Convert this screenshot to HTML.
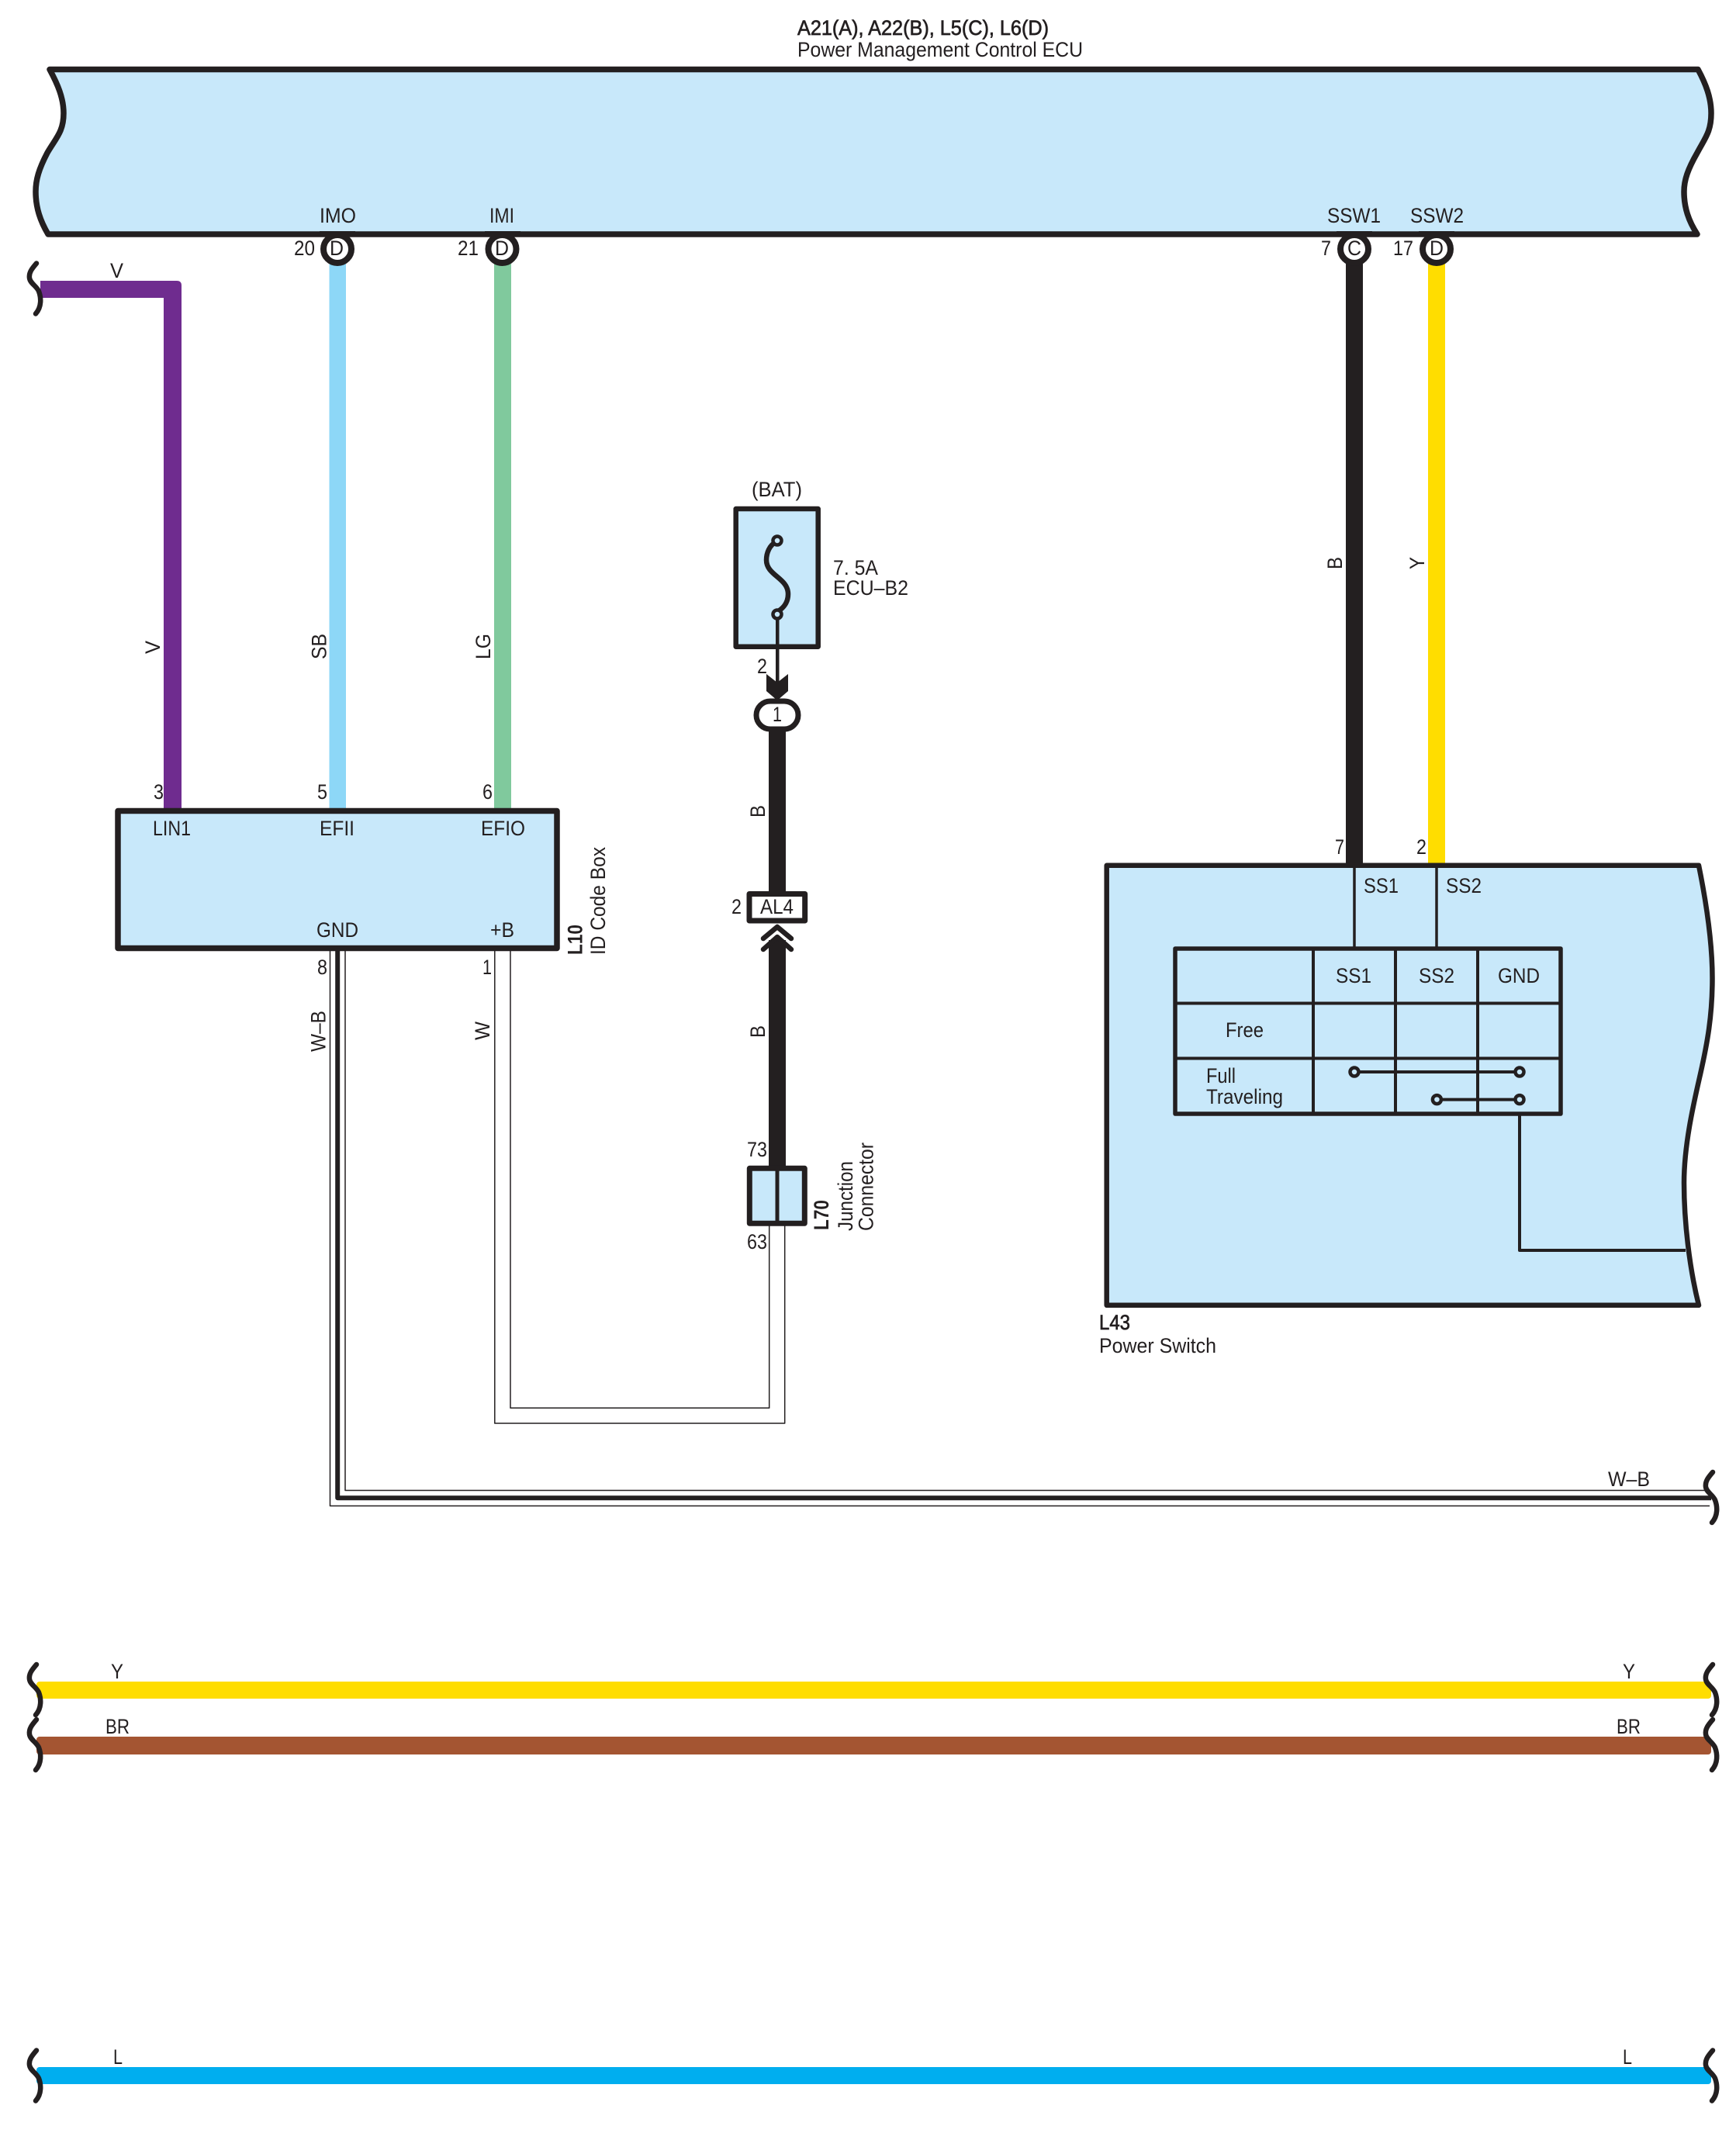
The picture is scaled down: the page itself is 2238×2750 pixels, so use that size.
<!DOCTYPE html>
<html><head><meta charset="utf-8"><style>
html,body{margin:0;padding:0;background:#fff}
svg{display:block}
text{font-family:"Liberation Sans",sans-serif;font-size:27px;fill:#231f20}
.b{stroke:#231f20;stroke-width:.7px}
.bb{font-weight:bold}
.n{fill:none;stroke:#231f20;stroke-linejoin:round}
</style></head><body>
<svg width="2238" height="2750" viewBox="0 0 2238 2750" xmlns="http://www.w3.org/2000/svg">
<defs>
<path id="br" d="M2,-33 C-4,-26 -8,-21 -7,-14 C-6,-7 2,-4 5,3 C8,11 9,23 1,32" fill="none" stroke="#231f20" stroke-width="6.5" stroke-linecap="round"/>
</defs>
<rect width="2238" height="2750" fill="#fff"/>

<!-- ECU -->
<path d="M64 89.5 L2189 89.5 C2199 108 2206 126 2206 146 C2206 170 2198 178 2188 197 C2176 218 2171 232 2171 247 C2171 268 2177 285 2188 302 L62 302 C52 285 46 268 46 247 C46 232 50 218 61 197 C72 178 82 170 82 146 C82 126 74 108 64 89.5 Z" fill="#c8e8fa" stroke="#231f20" stroke-width="7.5" stroke-linejoin="round"/>
<text x="1028" y="45" textLength="324" lengthAdjust="spacingAndGlyphs" class="b">A21(A), A22(B), L5(C), L6(D)</text>
<text x="1028" y="73" textLength="368" lengthAdjust="spacingAndGlyphs">Power Management Control ECU</text>
<text x="412" y="287" textLength="47" lengthAdjust="spacingAndGlyphs">IMO</text>
<text x="631" y="287" textLength="32" lengthAdjust="spacingAndGlyphs">IMI</text>
<text x="1711" y="287" textLength="69" lengthAdjust="spacingAndGlyphs">SSW1</text>
<text x="1818" y="287" textLength="69" lengthAdjust="spacingAndGlyphs">SSW2</text>

<!-- vertical wires from ECU -->
<rect x="424.5" y="340" width="21.5" height="704" fill="#8dd7f7"/>
<rect x="637" y="340" width="22" height="704" fill="#80c99d"/>
<rect x="1735" y="338" width="22" height="778" fill="#231f20"/>
<rect x="1841" y="340" width="22" height="776" fill="#ffdd00"/>

<!-- pin rings -->
<g fill="#fff" stroke="#231f20" stroke-width="8">
<circle cx="435" cy="321" r="18"/>
<circle cx="647.5" cy="321" r="18"/>
<circle cx="1746" cy="321" r="18"/>
<circle cx="1852" cy="321" r="18"/>
</g>
<rect x="412" y="298" width="46" height="7.5" fill="#231f20"/>
<rect x="625" y="298" width="46" height="7.5" fill="#231f20"/>
<rect x="1723" y="298" width="46" height="7.5" fill="#231f20"/>
<rect x="1829" y="298" width="46" height="7.5" fill="#231f20"/>
<text x="425" y="329" textLength="18" lengthAdjust="spacingAndGlyphs">D</text>
<text x="638" y="329" textLength="18" lengthAdjust="spacingAndGlyphs">D</text>
<text x="1737" y="329" textLength="18" lengthAdjust="spacingAndGlyphs">C</text>
<text x="1843" y="329" textLength="18" lengthAdjust="spacingAndGlyphs">D</text>
<text x="379" y="329" textLength="27" lengthAdjust="spacingAndGlyphs">20</text>
<text x="590" y="329" textLength="27" lengthAdjust="spacingAndGlyphs">21</text>
<text x="1703" y="329" textLength="13" lengthAdjust="spacingAndGlyphs">7</text>
<text x="1796" y="329" textLength="26" lengthAdjust="spacingAndGlyphs">17</text>

<!-- purple V -->
<path d="M52 362 L228 362 Q234 362 234 368 L234 1044 L211 1044 L211 384 L52 384 Z" fill="#6f2c8f"/>
<use href="#br" x="45" y="372.5"/>
<text x="142" y="358" textLength="17" lengthAdjust="spacingAndGlyphs">V</text>

<!-- rotated wire labels -->
<text transform="translate(206 843) rotate(-90)" textLength="17" lengthAdjust="spacingAndGlyphs">V</text>
<text transform="translate(420.5 850) rotate(-90)" textLength="33" lengthAdjust="spacingAndGlyphs">SB</text>
<text transform="translate(632 850) rotate(-90)" textLength="33" lengthAdjust="spacingAndGlyphs">LG</text>
<text transform="translate(1730 734) rotate(-90)" textLength="16" lengthAdjust="spacingAndGlyphs">B</text>
<text transform="translate(1836 734) rotate(-90)" textLength="16" lengthAdjust="spacingAndGlyphs">Y</text>

<!-- L10 -->
<rect x="152" y="1045.5" width="566" height="177" fill="#c8e8fa" stroke="#231f20" stroke-width="7.5" stroke-linejoin="round"/>
<text x="197" y="1077" textLength="49" lengthAdjust="spacingAndGlyphs">LIN1</text>
<text x="412" y="1077" textLength="45" lengthAdjust="spacingAndGlyphs">EFII</text>
<text x="620" y="1077" textLength="57" lengthAdjust="spacingAndGlyphs">EFIO</text>
<text x="408" y="1208" textLength="54" lengthAdjust="spacingAndGlyphs">GND</text>
<text x="632" y="1208" textLength="31" lengthAdjust="spacingAndGlyphs">+B</text>
<text x="198" y="1030" textLength="13" lengthAdjust="spacingAndGlyphs">3</text>
<text x="409" y="1030" textLength="13" lengthAdjust="spacingAndGlyphs">5</text>
<text x="622" y="1030" textLength="13" lengthAdjust="spacingAndGlyphs">6</text>
<text x="409" y="1256" textLength="13" lengthAdjust="spacingAndGlyphs">8</text>
<text x="622" y="1256" textLength="12" lengthAdjust="spacingAndGlyphs">1</text>
<text class="bb" transform="translate(750.5 1231) rotate(-90)" textLength="39" lengthAdjust="spacingAndGlyphs">L10</text>
<text transform="translate(780 1231) rotate(-90)" textLength="139" lengthAdjust="spacingAndGlyphs">ID Code Box</text>
<text transform="translate(419.5 1356) rotate(-90)" textLength="53" lengthAdjust="spacingAndGlyphs">W–B</text>
<text transform="translate(631 1341) rotate(-90)" textLength="24" lengthAdjust="spacingAndGlyphs">W</text>

<!-- W-B wire -->
<path d="M425.5 1226 V1941.5 H2204" class="n" stroke-width="1.5"/>
<path d="M445 1226 V1921.5 H2204" class="n" stroke-width="1.5"/>
<path d="M435.2 1226 V1931.3 H2206" class="n" stroke-width="6"/>
<use href="#br" x="2206" y="1931"/>
<text x="2073" y="1916" textLength="54" lengthAdjust="spacingAndGlyphs">W–B</text>

<!-- W wire -->
<path d="M637.8 1226 V1835 H1011.7 V1580" class="n" stroke-width="1.5"/>
<path d="M658 1226 V1815.3 H991.7 V1580" class="n" stroke-width="1.5"/>

<!-- Fuse -->
<text x="969" y="640" textLength="65" lengthAdjust="spacingAndGlyphs">(BAT)</text>
<rect x="948.7" y="656" width="106" height="177.7" fill="#c8e8fa" stroke="#231f20" stroke-width="6.5" stroke-linejoin="round"/>
<path d="M1000 699 C992 703 988 713 988 722 C988 742 1016 745 1016 766 C1016 778 1009 785 1000 790" class="n" stroke-width="6.5"/>
<circle cx="1002" cy="697" r="5.5" fill="#c8e8fa" stroke="#231f20" stroke-width="4.5"/>
<circle cx="1002" cy="792" r="5.5" fill="#c8e8fa" stroke="#231f20" stroke-width="4.5"/>
<rect x="1000" y="798" width="4.5" height="85" fill="#231f20"/>
<text x="1074" y="741" textLength="58" lengthAdjust="spacingAndGlyphs">7. 5A</text>
<text x="1074" y="767" textLength="97" lengthAdjust="spacingAndGlyphs">ECU–B2</text>
<text x="976" y="868" textLength="13" lengthAdjust="spacingAndGlyphs">2</text>
<polygon points="988,869 1002,880 1016,869 1016,891 1002,903 988,891" fill="#231f20"/>

<!-- B wire upper -->
<rect x="991" y="940" width="22" height="212" fill="#231f20"/>
<rect x="975" y="904" width="54" height="36" rx="18" ry="18" fill="#fff" stroke="#231f20" stroke-width="7"/>
<text x="996" y="930" textLength="12" lengthAdjust="spacingAndGlyphs">1</text>
<text transform="translate(986 1054) rotate(-90)" textLength="16" lengthAdjust="spacingAndGlyphs">B</text>

<!-- AL4 -->
<rect x="966" y="1152.5" width="71.7" height="34.5" fill="#fff" stroke="#231f20" stroke-width="7" stroke-linejoin="round"/>
<text x="980" y="1178" textLength="43" lengthAdjust="spacingAndGlyphs">AL4</text>
<text x="943" y="1178" textLength="13" lengthAdjust="spacingAndGlyphs">2</text>
<rect x="991" y="1212" width="22" height="295" fill="#231f20"/>
<polyline points="984,1210 1002,1195 1020,1210" class="n" stroke-width="6.5" stroke-linecap="round"/>
<polyline points="984,1224 1002,1208 1020,1224" class="n" stroke-width="6.5" stroke-linecap="round"/>
<text transform="translate(986 1338) rotate(-90)" textLength="16" lengthAdjust="spacingAndGlyphs">B</text>

<!-- L70 -->
<rect x="966.3" y="1506.3" width="71" height="71" fill="#c8e8fa" stroke="#231f20" stroke-width="7" stroke-linejoin="round"/>
<rect x="999.5" y="1506" width="5" height="72" fill="#231f20"/>
<text x="963" y="1491" textLength="26" lengthAdjust="spacingAndGlyphs">73</text>
<text x="963" y="1610" textLength="26" lengthAdjust="spacingAndGlyphs">63</text>
<text class="bb" transform="translate(1068 1586) rotate(-90)" textLength="39" lengthAdjust="spacingAndGlyphs">L70</text>
<text transform="translate(1099 1587) rotate(-90)" textLength="90" lengthAdjust="spacingAndGlyphs">Junction</text>
<text transform="translate(1125.5 1587) rotate(-90)" textLength="114" lengthAdjust="spacingAndGlyphs">Connector</text>

<!-- L43 -->
<path d="M1426.7 1115.8 C1700 1115.8 1900 1115.8 2190 1115.8 C2200 1165 2207.5 1215 2207.5 1261 C2207.5 1310 2201 1345 2192 1385 C2184 1420 2171 1475 2171 1525 C2171 1575 2178 1635 2190 1682.8 L1426.7 1682.8 Z" fill="#c8e8fa" stroke="#231f20" stroke-width="6.5" stroke-linejoin="round"/>
<text x="1721" y="1101" textLength="12" lengthAdjust="spacingAndGlyphs">7</text>
<text x="1826" y="1101" textLength="13" lengthAdjust="spacingAndGlyphs">2</text>
<path d="M1746 1116 V1223 M1852 1116 V1223" class="n" stroke-width="3.5"/>
<text x="1758" y="1151" textLength="45" lengthAdjust="spacingAndGlyphs">SS1</text>
<text x="1864" y="1151" textLength="46" lengthAdjust="spacingAndGlyphs">SS2</text>
<rect x="1515" y="1223" width="497" height="213" fill="#c8e8fa" stroke="#231f20" stroke-width="5.5" stroke-linejoin="round"/>
<path d="M1693 1223 V1436 M1799 1223 V1436 M1905 1223 V1436 M1515 1293.5 H2012 M1515 1364.5 H2012" class="n" stroke-width="4"/>
<text x="1722" y="1267" textLength="46" lengthAdjust="spacingAndGlyphs">SS1</text>
<text x="1829" y="1267" textLength="46" lengthAdjust="spacingAndGlyphs">SS2</text>
<text x="1931" y="1267" textLength="54" lengthAdjust="spacingAndGlyphs">GND</text>
<text x="1580" y="1337" textLength="49" lengthAdjust="spacingAndGlyphs">Free</text>
<text x="1555" y="1396" textLength="38" lengthAdjust="spacingAndGlyphs">Full</text>
<text x="1555" y="1423" textLength="99" lengthAdjust="spacingAndGlyphs">Traveling</text>
<path d="M1746 1382 H1959 M1852.4 1417.6 H1959" class="n" stroke-width="4"/>
<g fill="#c8e8fa" stroke="#231f20" stroke-width="4.5">
<circle cx="1746" cy="1382" r="5.5"/>
<circle cx="1959" cy="1382" r="5.5"/>
<circle cx="1852.4" cy="1417.6" r="5.5"/>
<circle cx="1959" cy="1417.6" r="5.5"/>
</g>
<path d="M1959 1436 V1612 H2173" class="n" stroke-width="4"/>
<text x="1417" y="1714" textLength="40" lengthAdjust="spacingAndGlyphs" class="b">L43</text>
<text x="1417" y="1744" textLength="151" lengthAdjust="spacingAndGlyphs">Power Switch</text>

<!-- Bottom wires -->
<rect x="47" y="2168" width="2159" height="22" rx="4" fill="#ffdd00"/>
<rect x="47" y="2239" width="2159" height="23" rx="4" fill="#a45532"/>
<rect x="47" y="2665" width="2159" height="22" rx="4" fill="#00aeef"/>
<use href="#br" x="45" y="2179"/><use href="#br" x="2206" y="2179"/>
<use href="#br" x="45" y="2250"/><use href="#br" x="2206" y="2250"/>
<use href="#br" x="45" y="2676.5"/><use href="#br" x="2206" y="2676.5"/>
<text x="143" y="2164" textLength="16" lengthAdjust="spacingAndGlyphs">Y</text>
<text x="2092" y="2164" textLength="16" lengthAdjust="spacingAndGlyphs">Y</text>
<text x="136" y="2235" textLength="31" lengthAdjust="spacingAndGlyphs">BR</text>
<text x="2084" y="2235" textLength="31" lengthAdjust="spacingAndGlyphs">BR</text>
<text x="146" y="2661" textLength="12" lengthAdjust="spacingAndGlyphs">L</text>
<text x="2092" y="2661" textLength="12" lengthAdjust="spacingAndGlyphs">L</text>
</svg>
</body></html>
